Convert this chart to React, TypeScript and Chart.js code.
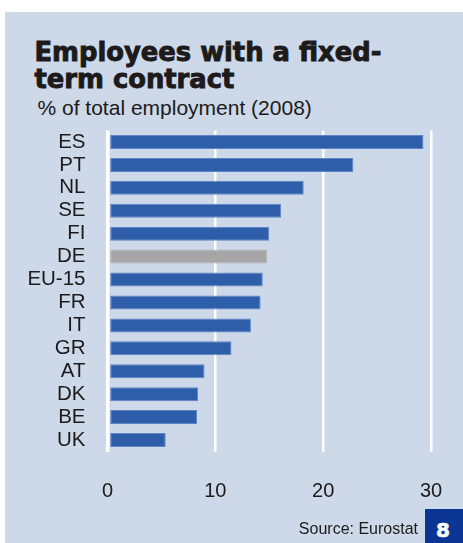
import React, { useEffect, useRef } from "react";
import { Chart, registerables } from "chart.js";

Chart.register(...registerables);

const categories = ["ES", "PT", "NL", "SE", "FI", "DE", "EU-15", "FR", "IT", "GR", "AT", "DK", "BE", "UK"];
const values = [29.3, 22.8, 18.2, 16.1, 15.0, 14.8, 14.4, 14.2, 13.3, 11.5, 9.0, 8.4, 8.3, 5.4];
const xTicks = [0, 10, 20, 30];
const highlighted = "DE";

const titleLines = ["Employees with a fixed-", "term contract"];
const subtitle = "% of total employment (2008)";
const source = "Source: Eurostat";
const pageNumber = "8";

const BLUE = "#2e5ea9";
const BLUE_BORDER = "#5f85c4";
const GREY = "#a6a6a6";
const GREY_BORDER = "#b4b4b4";
const PANEL = "#cdd8e9";
const TEXT = "#1c1a1a";
const FONT = "'Liberation Sans', Arial, Helvetica, sans-serif";
const HEAVY = "'DejaVu Sans', 'Liberation Sans', sans-serif";

export default function App() {
  const canvasRef = useRef<HTMLCanvasElement | null>(null);

  useEffect(() => {
    document.body.style.margin = "0";
    const canvas = canvasRef.current;
    if (!canvas) return;
    const chart = new Chart(canvas, {
      type: "bar",
      data: {
        labels: categories,
        datasets: [
          {
            data: values,
            backgroundColor: categories.map((c) => (c === highlighted ? GREY : BLUE)),
            borderColor: categories.map((c) => (c === highlighted ? GREY_BORDER : BLUE_BORDER)),
            borderWidth: 1,
            borderSkipped: false,
            barPercentage: 0.61,
            categoryPercentage: 1,
            base: 0.25,
          } as any,
        ],
      },
      options: {
        indexAxis: "y",
        responsive: false,
        animation: false,
        devicePixelRatio: 1,
        layout: { padding: { top: 130.5, left: 0, right: 32, bottom: 31.5 } },
        plugins: { legend: { display: false }, tooltip: { enabled: false }, title: { display: false } },
        scales: {
          x: {
            type: "linear",
            position: "bottom",
            min: 0,
            max: 30,
            afterBuildTicks: (scale: any) => {
              scale.ticks = xTicks.map((v) => ({ value: v }));
            },
            afterFit: (scale: any) => {
              scale.height = 60;
              scale.paddingLeft = 0;
              scale.paddingRight = 0;
            },
            ticks: {
              padding: 28,
              color: TEXT,
              maxRotation: 0,
              font: { family: FONT, size: 20 },
            },
            grid: {
              color: "#ffffff",
              lineWidth: (ctx: any) => (ctx.tick && ctx.tick.value === 0 ? 3.5 : 2.5),
              drawTicks: false,
            },
            border: { display: false },
          },
          y: {
            type: "category",
            afterFit: (scale: any) => {
              scale.width = 107.5;
              scale.paddingTop = 0;
              scale.paddingBottom = 0;
            },
            ticks: {
              padding: 22,
              autoSkip: false,
              color: TEXT,
              font: { family: FONT, size: 20.5 },
            },
            grid: { display: false, drawTicks: false },
            border: { display: false },
          },
        },
      } as any,
    });
    return () => chart.destroy();
  }, []);

  return (
    <div style={{ position: "relative", width: 463, height: 543, background: "#ffffff", overflow: "hidden" }}>
      <div style={{ position: "absolute", left: 5, top: 12, width: 458, height: 531, background: PANEL }} />
      <div
        style={{
          position: "absolute",
          left: 34.5,
          top: 38.8,
          fontFamily: HEAVY,
          fontWeight: 700,
          fontSize: 25.8,
          lineHeight: "27px",
          color: TEXT,
          WebkitTextStroke: "0.9px " + TEXT,
          whiteSpace: "nowrap",
        }}
      >
        {titleLines.map((l, i) => (
          <div key={i}>{l}</div>
        ))}
      </div>
      <div
        style={{
          position: "absolute",
          left: 37.5,
          top: 95.7,
          fontFamily: FONT,
          fontSize: 21,
          lineHeight: "24px",
          color: TEXT,
          whiteSpace: "nowrap",
        }}
      >
        {subtitle}
      </div>
      <canvas
        ref={canvasRef}
        width={463}
        height={543}
        style={{ position: "absolute", left: 0, top: 0, width: 463, height: 543 }}
      />
      <div
        style={{
          position: "absolute",
          right: 463 - 418,
          top: 518.8,
          fontFamily: FONT,
          fontSize: 16,
          lineHeight: "20px",
          color: TEXT,
          whiteSpace: "nowrap",
        }}
      >
        {source}
      </div>
      <div
        style={{
          position: "absolute",
          left: 425,
          top: 509,
          width: 38,
          height: 34,
          background: "#0b3593",
        }}
      >
        <div
          style={{
            position: "absolute",
            left: 0,
            top: 4.3,
            width: 36,
            textAlign: "center",
            color: "#ffffff",
            fontFamily: HEAVY,
            fontWeight: 700,
            fontSize: 20,
            lineHeight: "34px",
            WebkitTextStroke: "0.6px #ffffff",
          }}
        >
          {pageNumber}
        </div>
      </div>
    </div>
  );
}
